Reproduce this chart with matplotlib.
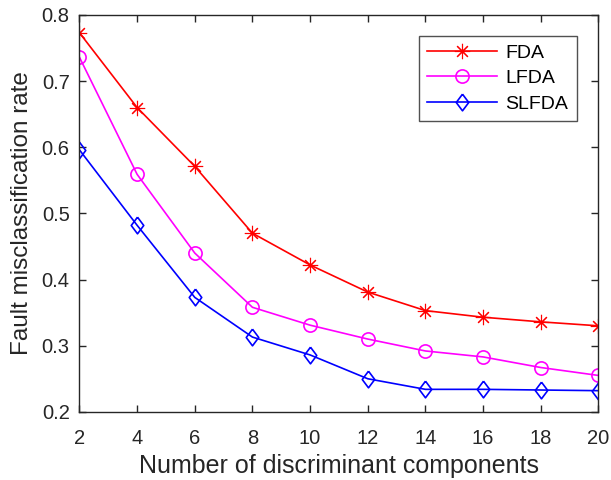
import matplotlib.pyplot as plt
import numpy as np

plt.rcParams['font.family'] = ['Liberation Sans', 'DejaVu Sans']

# number of discriminant components
n_comp = [2, 4, 6, 8, 10, 12, 14, 16, 18, 20]

# fault misclassification rates
fda = [0.773, 0.660, 0.571, 0.470, 0.422, 0.381, 0.353, 0.343, 0.336, 0.330]
lfda = [0.736, 0.559, 0.440, 0.358, 0.331, 0.310, 0.292, 0.283, 0.267, 0.255]
slfda = [0.596, 0.482, 0.373, 0.313, 0.286, 0.250, 0.234, 0.234, 0.233, 0.232]

# matlab-ish diamond (a bit narrower than matplotlib's 'D')
diamond = [(0, 1), (0.75, 0), (0, -1), (-0.75, 0), (0, 1)]

fig = plt.figure(figsize=(6.11, 4.8), dpi=100)
ax = fig.add_axes([0.130, 0.142, 0.8495, 0.827])

ax.plot(n_comp, fda, c="#ff0000", lw=1.2, marker=(8, 2, 0), ms=11,
        mew=0.8, label="FDA")
ax.plot(n_comp, lfda, c="#ff00ff", lw=1.2, marker="o", ms=9.5,
        mfc="none", mew=1.2, label="LFDA")
ax.plot(n_comp, slfda, c="#0000ff", lw=1.2, marker=diamond, ms=12,
        mfc="none", mew=1.2, label="SLFDA")

ax.set_xlim(2, 20)
ax.set_ylim(0.2, 0.8)
ax.set_xticks(np.arange(2, 21, 2))
ax.set_yticks(np.arange(0.2, 0.81, 0.1))
ax.set_yticklabels(["0.2", "0.3", "0.4", "0.5", "0.6", "0.7", "0.8"])

axcol = "#262626"
for s in ax.spines.values():
    s.set_color(axcol)
    s.set_linewidth(1.0)
ax.tick_params(direction="in", top=True, right=True, length=5,
               width=1.0, color=axcol, labelcolor=axcol, labelsize=14.5, pad=7)
ax.tick_params(axis="x", pad=12)

ax.set_xlabel("Number of discriminant components", fontsize=18, color=axcol, labelpad=5)
ax.set_ylabel("Fault misclassification rate", fontsize=17.5, color=axcol, labelpad=6)

leg = ax.legend(loc="upper right", bbox_to_anchor=(0.958, 0.948), fontsize=14,
                handlelength=3.6, frameon=True, fancybox=False, borderpad=0.45,
                labelspacing=0.4, handletextpad=0.4, borderaxespad=0)
leg.get_frame().set_edgecolor(axcol)
leg.get_frame().set_linewidth(1.0)

fig.savefig("out.png", dpi=100)
